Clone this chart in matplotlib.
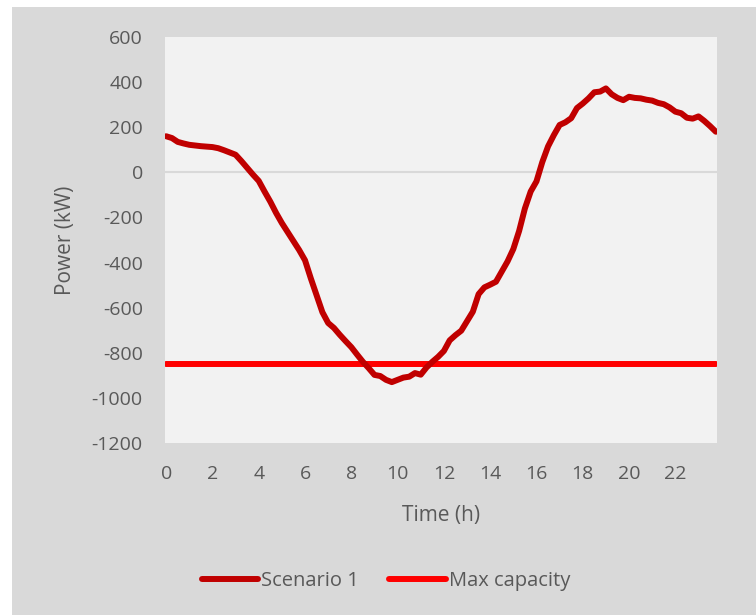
import numpy as np
import matplotlib
matplotlib.use("Agg")
import matplotlib.pyplot as plt
from matplotlib.patches import Rectangle

plt.rcParams['font.family'] = ['Open Sans', 'DejaVu Sans']
plt.rcParams['axes.unicode_minus'] = False

# Time of day in hours, 15-minute steps
hours = np.arange(96) * 0.25

# Net power at the connection point, Scenario 1 (kW)
scenario_1 = [
    160, 152, 135, 128, 122, 119, 116, 114,
    112, 107, 98, 88, 78, 50, 20, -10,
    -38, -85, -130, -180, -225, -265, -305, -345,
    -390, -470, -545, -620, -668, -690, -720, -748,
    -775, -808, -840, -868, -898, -903, -920, -930,
    -920, -910, -906, -890, -897, -865, -840, -818,
    -792, -745, -722, -702, -660, -618, -540, -510,
    -498, -485, -440, -395, -340, -260, -160, -85,
    -40, 45, 115, 165, 210, 222, 240, 285,
    305, 328, 355, 358, 372, 346, 330, 320,
    335, 330, 328, 322, 318, 308, 302, 288,
    269, 262, 242, 238, 248, 228, 205, 180,
]
max_capacity = -850

x_ticks = list(range(0, 24, 2))
y_ticks = list(range(-1200, 601, 200))

W, H = 756, 615
fig = plt.figure(figsize=(W / 100, H / 100), dpi=100)
fig.patch.set_facecolor('white')
fig.patches.append(Rectangle((12 / W, 0), 1 - 12 / W, 1 - 7 / H,
                             transform=fig.transFigure, facecolor='#D9D9D9',
                             edgecolor='none', zorder=-5))

ax = fig.add_axes([165 / W, (H - 443) / H, 552 / W, 406 / H])
ax.set_zorder(1)
ax.set_facecolor('#F2F2F2')

ax.axhline(0, color='#D9D9D9', lw=1.5, zorder=1)
ax.plot(hours, scenario_1, color='#C00000', lw=4.3, solid_capstyle='round',
        solid_joinstyle='round', label='Scenario 1', zorder=3)
ax.plot(hours, [max_capacity] * len(hours), color='#FF0000', lw=4.3,
        solid_capstyle='round', label='Max capacity', zorder=2)

ax.set_xlim(-0.05, 23.8)
ax.set_ylim(-1200, 600)
ax.set_xticks(x_ticks)
ax.set_yticks(y_ticks)
for s in ax.spines.values():
    s.set_visible(False)
ax.tick_params(length=0, labelsize=14, colors='#595959')
ax.tick_params(axis='y', pad=16)
ax.tick_params(axis='x', pad=16)

ax.set_xlabel('Time (h)', fontsize=15, color='#595959')
ax.set_ylabel('Power (kW)', fontsize=15, color='#595959')
ax.xaxis.set_label_coords(0.5, -0.179)
ax.yaxis.set_label_coords(-0.181, 0.5)
ax.xaxis.label.set_va('center')
ax.yaxis.label.set_va('center')

leg = fig.legend(loc='center', bbox_to_anchor=(386 / W, 1 - 581 / H), ncol=2,
                 frameon=False, fontsize=14.5, handlelength=2.8,
                 handletextpad=0.15, columnspacing=1.5)
for t in leg.get_texts():
    t.set_color('#595959')

fig.savefig('out.png', dpi=100)
